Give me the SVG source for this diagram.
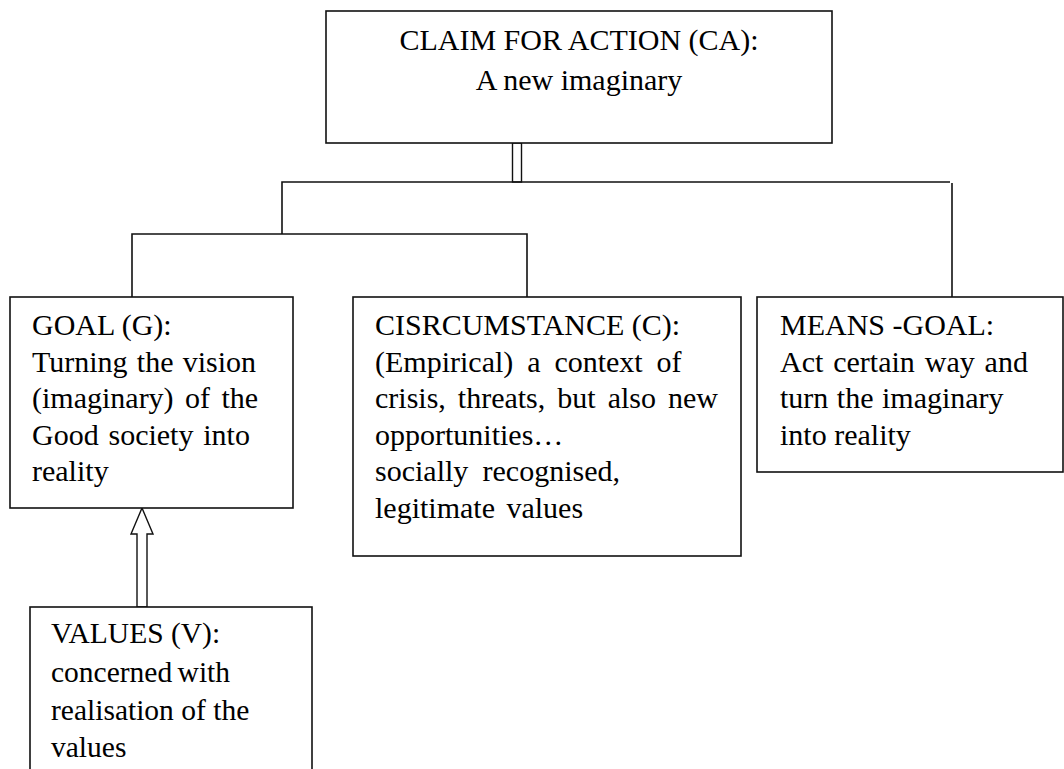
<svg xmlns="http://www.w3.org/2000/svg" width="1064" height="769" viewBox="0 0 1064 769">
<style>
.box{fill:#fff;stroke:#111;stroke-width:1.6}
.ln{fill:none;stroke:#111;stroke-width:1.6}
.hollow{fill:#fff;stroke:#111;stroke-width:1.4}
text{font-family:'Liberation Serif','Times New Roman',Tinos,'DejaVu Serif','Noto Serif',serif;font-size:30px;fill:#000}
.c{text-anchor:middle}
</style>
<rect width="1064" height="769" fill="#fff"/>
<g id="connectors">
<rect class="hollow" x="512.5" y="143" width="9" height="39"/>
<polyline class="ln" points="282,234 282,182 950,182"/>
<polyline class="ln" points="132,297 132,234 527,234 527,297"/>
<polyline class="ln" points="952,183 952,297"/>
<path class="hollow" d="M142,508 L153,534 L147,534 L147,607 L137,607 L137,534 L131,534 Z"/>
</g>
<g id="node-ca">
<rect class="box" x="326" y="11" width="506" height="132"/>
<text class="c" x="579" y="50">CLAIM FOR ACTION (CA):</text>
<text class="c" x="579" y="90">A new imaginary</text>
</g>
<g id="node-goal">
<rect class="box" x="10" y="297" width="283" height="211"/>
<text x="32" y="335">GOAL (G):</text>
<text x="32" y="372" word-spacing="1.7">Turning the vision</text>
<text x="32" y="408" word-spacing="3.9">(imaginary) of the</text>
<text x="32" y="445" word-spacing="2.3">Good society into</text>
<text x="32" y="481">reality</text>
</g>
<g id="node-circumstance">
<rect class="box" x="353" y="297" width="388" height="259"/>
<text x="375" y="335">CISRCUMSTANCE (C):</text>
<text x="375" y="372" word-spacing="6.4">(Empirical) a context of</text>
<text x="375" y="408" word-spacing="4.5">crisis, threats, but also new</text>
<text x="375" y="445">opportunities…</text>
<text x="375" y="481" word-spacing="6.7">socially recognised,</text>
<text x="375" y="518" word-spacing="4">legitimate values</text>
</g>
<g id="node-means">
<rect class="box" x="757" y="297" width="306" height="175"/>
<text x="780" y="335">MEANS -GOAL:</text>
<text x="780" y="372" word-spacing="2.4">Act certain way and</text>
<text x="780" y="408" word-spacing="1">turn the imaginary</text>
<text x="780" y="445">into reality</text>
</g>
<g id="node-values">
<rect class="box" x="30" y="607" width="282" height="180"/>
<text x="51" y="643" style="font-size:29.5px">VALUES (V):</text>
<text x="51" y="682" style="font-size:29.5px" word-spacing="-2">concerned with</text>
<text x="51" y="720" style="font-size:29.5px">realisation of the</text>
<text x="51" y="757" style="font-size:29.5px">values</text>
</g>
</svg>
